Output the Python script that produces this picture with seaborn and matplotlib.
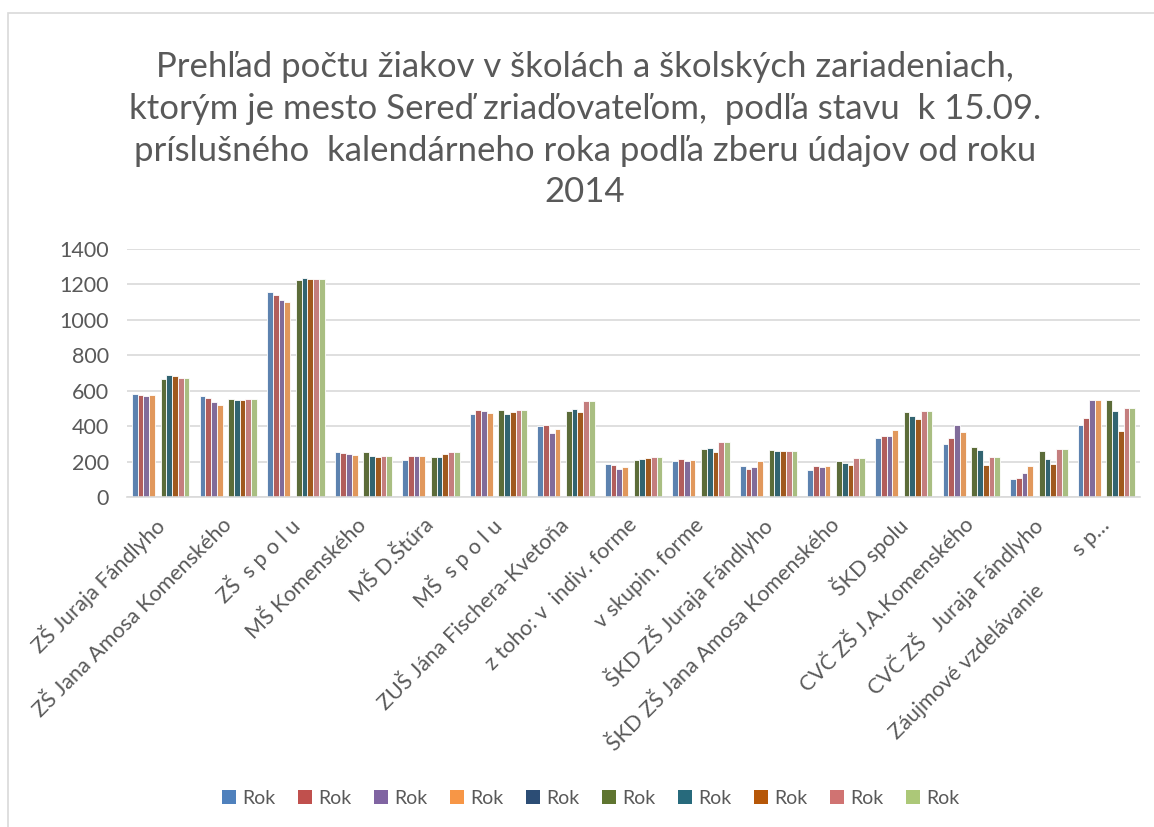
import numpy as np
import pandas as pd
import matplotlib
matplotlib.use("Agg")
import matplotlib.pyplot as plt
import seaborn as sns
from matplotlib.patches import Patch, Rectangle

categories = [
    "ZŠ Juraja Fándlyho", "ZŠ Jana Amosa Komenského", "ZŠ  s p o l u",
    "MŠ Komenského", "MŠ D.Štúra", "MŠ  s p o l u",
    "ZUŠ Jána Fischera-Kvetoňa", "z toho: v  indiv. forme", "v skupin. forme",
    "ŠKD ZŠ Juraja Fándlyho", "ŠKD ZŠ Jana Amosa Komenského", "ŠKD spolu",
    "CVČ ZŠ J.A.Komenského", "CVČ ZŠ   Juraja Fándlyho",
    "Záujmové vzdelávanie         s p…",
]

rok1 = [582, 569, 1156, 256, 209, 468, 398, 187, 206, 175, 155, 334, 302, 104, 409]
rok2 = [577, 558, 1139, 250, 233, 492, 404, 181, 217, 160, 177, 342, 334, 108, 447]
rok3 = [571, 536, 1110, 242, 233, 483, 364, 160, 202, 170, 170, 345, 408, 134, 545]
rok4 = [577, 520, 1103, 239, 229, 475, 385, 170, 211, 202, 175, 377, 368, 177, 545]
rok5 = [np.nan] * 15
rok6 = [667, 552, 1223, 256, 227, 489, 483, 209, 272, 268, 206, 477, 285, 262, 549]
rok7 = [690, 545, 1238, 233, 227, 466, 498, 217, 276, 260, 192, 455, 266, 217, 483]
rok8 = [682, 545, 1229, 227, 244, 479, 479, 223, 255, 257, 183, 443, 183, 189, 375]
rok9 = [673, 552, 1229, 229, 256, 492, 540, 228, 308, 260, 223, 487, 228, 272, 504]
rok10 = [673, 552, 1229, 229, 256, 492, 540, 228, 308, 260, 223, 487, 228, 272, 504]

series_names = [f"Rok {i}" for i in range(1, 11)]
legend_labels = ["Rok"] * 10
colors = ["#4F81BD", "#C0504D", "#8064A2", "#F79646", "#2C4D75",
          "#5F7530", "#276A7C", "#B65708", "#D07372", "#ACC878"]

all_series = [rok1, rok2, rok3, rok4, rok5, rok6, rok7, rok8, rok9, rok10]
rows = []
for name, vals in zip(series_names, all_series):
    for c, v in zip(categories, vals):
        rows.append({"kategoria": c, "serie": name, "hodnota": v})
df = pd.DataFrame(rows)

sns.set_theme(style="white")
plt.rcParams["font.family"] = ["Lato", "DejaVu Sans"]
text_color = "#595959"

fig = plt.figure(figsize=(11.54, 8.27), dpi=100)
ax = fig.add_axes([0.110, 0.399, 0.878, 0.300])

sns.barplot(data=df, x="kategoria", y="hodnota", hue="serie",
            order=categories, hue_order=series_names, palette=colors,
            width=0.85, errorbar=None, edgecolor="white", linewidth=0.6,
            legend=False, ax=ax)

ax.set_ylim(0, 1400)
ax.set_yticks(range(0, 1401, 200))
ax.set_xlim(-0.5, len(categories) - 0.5)
ax.yaxis.grid(True, color="#D9D9D9", linewidth=1.2)
ax.set_axisbelow(True)
for s in ["top", "right", "left"]:
    ax.spines[s].set_visible(False)
ax.spines["bottom"].set_color("#D9D9D9")
ax.spines["bottom"].set_linewidth(1.2)
ax.set_xlabel("")
ax.set_ylabel("")
ax.tick_params(axis="y", length=0, pad=13, labelsize=15.5, labelcolor=text_color)
ax.tick_params(axis="x", length=0, pad=18, labelsize=15.5, labelcolor=text_color)
plt.setp(ax.get_xticklabels(), rotation=45, ha="right", va="center",
         rotation_mode="anchor")

fig.text(0.507, 0.938,
         "Prehľad počtu žiakov v školách a školských zariadeniach,\n"
         "ktorým je mesto Sereď zriaďovateľom,  podľa stavu  k 15.09.\n"
         "príslušného  kalendárneho roka podľa zberu údajov od roku\n"
         "2014",
         ha="center", va="top", fontsize=25, color=text_color, linespacing=1.37)

handles = [Patch(facecolor=c, edgecolor="none") for c in colors]
fig.legend(handles, legend_labels, loc="center", bbox_to_anchor=(0.512, 0.035),
           ncol=10, frameon=False, fontsize=14, labelcolor=text_color,
           handlelength=0.7, handleheight=0.7, handletextpad=0.35,
           columnspacing=1.15)

fig.patches.append(Rectangle((8 / 1154, -0.1), 1.2, 1 - 13 / 827 + 0.1,
                             transform=fig.transFigure, fill=False,
                             edgecolor="#D9D9D9", linewidth=1.2))

fig.savefig("out.png", dpi=100, facecolor="white")
